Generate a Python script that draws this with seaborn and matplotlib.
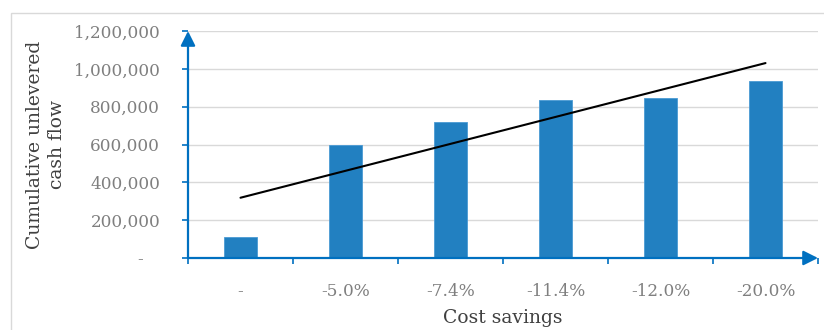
import numpy as np
import pandas as pd
import matplotlib
matplotlib.use("Agg")
import matplotlib.pyplot as plt
from matplotlib.patches import Rectangle
from matplotlib.ticker import FixedLocator
import seaborn as sns

# Cumulative unlevered cash flow by cost-savings scenario
categories = ["-", "-5.0%", "-7.4%", "-11.4%", "-12.0%", "-20.0%"]
cash_flow = [110000, 600000, 720000, 835000, 846000, 936000]
y_ticks = [0, 200000, 400000, 600000, 800000, 1000000, 1200000]
y_tick_labels = ["-   ", "200,000", "400,000", "600,000", "800,000", "1,000,000", "1,200,000"]

BAR = "#2280C1"
AXIS = "#0070C0"
GRID = "#D9D9D9"
TICK_TXT = "#7F7F7F"
LABEL_TXT = "#404040"

sns.set_theme(style="white")
plt.rcParams["font.family"] = ["DejaVu Serif"]

W, H = 824, 330
fig = plt.figure(figsize=(W / 100, H / 100), dpi=100)

# outer chart frame
fig.patches.append(Rectangle((11 / W, -0.1), 1.2, 1.1 - 13 / H,
                             transform=fig.transFigure, fill=False,
                             edgecolor=GRID, lw=1.0, zorder=0))

ax = fig.add_axes([188 / W, 72 / H, 630 / W, 227 / H])

df = pd.DataFrame({"scenario": categories, "cash_flow": cash_flow})
sns.barplot(data=df, x="scenario", y="cash_flow", color=BAR, width=0.31,
            saturation=1, edgecolor="#4A9AD4", linewidth=0.6, ax=ax, zorder=3)

# linear trend through the scenario values
sns.regplot(x=np.arange(len(cash_flow)), y=np.array(cash_flow, dtype=float),
            scatter=False, ci=None, truncate=True, color="black",
            line_kws={"lw": 1.5, "zorder": 4}, ax=ax)

ax.set_xlim(-0.5, len(categories) - 0.5)
ax.set_ylim(0, 1200000)

ax.set_yticks(y_ticks)
ax.set_yticklabels(y_tick_labels)
ax.yaxis.grid(True, color=GRID, lw=1.0, zorder=0)
ax.set_axisbelow(True)

ax.set_xticks(range(len(categories)))
ax.set_xticklabels(categories)
ax.xaxis.set_minor_locator(FixedLocator(np.arange(-0.5, len(categories) - 0.4, 1.0)))

for side in ["top", "right", "left", "bottom"]:
    ax.spines[side].set_visible(False)

ax.tick_params(axis="y", which="major", left=True, length=4.5, width=1.2,
               color=AXIS, labelsize=12.2, labelcolor=TICK_TXT, pad=15.5)
ax.tick_params(axis="x", which="major", bottom=False, length=0,
               labelsize=12.2, labelcolor=TICK_TXT, pad=18)
ax.tick_params(axis="x", which="minor", bottom=True, length=4.5, width=1.2,
               color=AXIS)

# axis lines with arrowheads
ax.annotate("", xy=(0, 1.0), xytext=(0, 0), xycoords="axes fraction",
            arrowprops=dict(arrowstyle="-|>", color=AXIS, lw=1.6,
                            mutation_scale=22, shrinkA=0, shrinkB=0),
            annotation_clip=False, zorder=6)
ax.annotate("", xy=(1.0, 0), xytext=(0, 0), xycoords="axes fraction",
            arrowprops=dict(arrowstyle="-|>", color=AXIS, lw=1.6,
                            mutation_scale=22, shrinkA=0, shrinkB=0),
            annotation_clip=False, zorder=6)

ax.set_ylabel("Cumulative unlevered\ncash flow", fontsize=13.5,
              color=LABEL_TXT, linespacing=1.25, va="center", ha="center")
ax.yaxis.set_label_coords(-0.225, 0.5)
ax.set_xlabel("Cost savings", fontsize=13.5, color=LABEL_TXT,
              va="center", ha="center")
ax.xaxis.set_label_coords(0.5, -0.265)

fig.savefig("out.png", dpi=100)
